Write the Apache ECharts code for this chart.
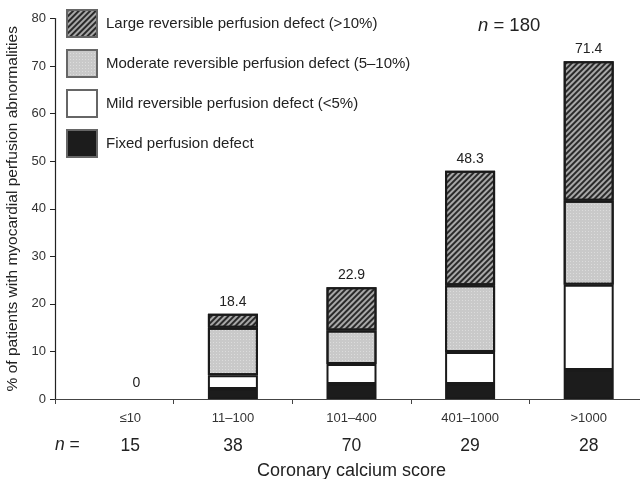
<!DOCTYPE html>
<html><head><meta charset="utf-8">
<script src="https://cdn.jsdelivr.net/npm/echarts@6/dist/echarts.min.js"></script>
<style>html,body{margin:0;padding:0;background:#fff}#c{width:640px;height:479px}</style>
</head><body><div id="c"></div>
<script>
var categories = ['≤10', '11–100', '101–400', '401–1000', '>1000'];
var nValues = ['15', '38', '70', '29', '28'];
var totalLabels = ['0', '18.4', '22.9', '48.3', '71.4'];
var fixedDefect = [0, 2.1, 3.15, 3.15, 6.1];
var mildDefect = [0, 2.9, 4.2, 6.75, 17.9];
var moderateDefect = [0, 10, 7.05, 14, 17.7];
var largeDefect = [0, 2.9, 9.1, 24.1, 29.3];
var yTicks = [0, 10, 20, 30, 40, 50, 60, 70, 80];

var FONT = 'Liberation Sans, Arial, sans-serif';
var chart = echarts.init(document.getElementById('c'), null, {renderer: 'canvas'});

function items(arr, isTop) {
  return arr.map(function (v) {
    if (v === 0) return isTop ? {value: 0, itemStyle: {borderWidth: 0, color: 'rgba(0,0,0,0)'}, label: {offset: [22, -4]}} : '-';
    return v;
  });
}
var border = {borderColor: '#1a1a1a', borderWidth: 2};
function shiftFirst(v, i) { return i === 0 ? '{s|' + v + '}' : v; }

chart.setOption({
  animation: false,
  legend: {
    orient: 'vertical', left: 61, top: 4, icon: 'rect', padding: 5,
    itemWidth: 30, itemHeight: 27, itemGap: 11,
    data: ['Large reversible perfusion defect (>10%)', 'Moderate reversible perfusion defect (5–10%)', 'Mild reversible perfusion defect (<5%)', 'Fixed perfusion defect'],
    itemStyle: {borderColor: '#666', borderWidth: 2},
    textStyle: {fontFamily: FONT, fontSize: 15, color: '#222', padding: [0, 0, 0, 4]},
    selectedMode: false
  },
  grid: {left: 55, top: 18.5, bottom: 80, width: 593, containLabel: false, outerBoundsMode: 'none'},
  xAxis: [{
    type: 'category', data: categories, position: 'bottom',
    axisLine: {lineStyle: {color: '#444', width: 1.2}},
    axisTick: {show: true, length: 5, lineStyle: {color: '#444'}},
    axisLabel: {fontFamily: FONT, fontSize: 13, color: '#333', margin: 13, formatter: shiftFirst,
      rich: {s: {fontFamily: FONT, fontSize: 13, color: '#333', padding: [0, 0, 0, 32]}}}
  }, {
    type: 'category', data: nValues, position: 'bottom', offset: 30,
    axisLine: {show: false}, axisTick: {show: false},
    axisLabel: {fontFamily: FONT, fontSize: 17.5, color: '#222', margin: 8, formatter: shiftFirst,
      rich: {s: {fontFamily: FONT, fontSize: 17.5, color: '#222', padding: [0, 0, 0, 32]}}},
    name: 'Coronary calcium score', nameLocation: 'middle', nameGap: 33,
    nameTextStyle: {fontFamily: FONT, fontSize: 18, color: '#222'}
  }],
  yAxis: {
    type: 'value', min: 0, max: 80, interval: 10,
    axisLine: {show: true, lineStyle: {color: '#222', width: 1.2}},
    axisTick: {show: true, length: 5, lineStyle: {color: '#222'}},
    splitLine: {show: false},
    axisLabel: {fontFamily: FONT, fontSize: 13, color: '#333', margin: 9},
    name: '% of patients with myocardial perfusion abnormalities',
    nameLocation: 'middle', nameGap: 33,
    nameTextStyle: {fontFamily: FONT, fontSize: 15.5, color: '#222'}
  },
  graphic: [
    {type: 'text', left: 55, top: 436, style: {text: '{i|n} =', rich: {i: {fontStyle: 'italic', fontFamily: FONT, fontSize: 17.5, fill: '#222'}}, font: '17.5px ' + FONT, fill: '#222'}},
    {type: 'text', left: 478, top: 16, style: {text: '{i|n} = 180', rich: {i: {fontStyle: 'italic', fontFamily: FONT, fontSize: 18.5, fill: '#222'}}, font: '18.5px ' + FONT, fill: '#222'}}
  ],
  series: [
    {name: 'Fixed perfusion defect', type: 'bar', stack: 's', barWidth: 50, data: items(fixedDefect),
     itemStyle: Object.assign({color: '#1c1c1c'}, border)},
    {name: 'Mild reversible perfusion defect (<5%)', type: 'bar', stack: 's', barWidth: 50, data: items(mildDefect),
     itemStyle: Object.assign({color: '#ffffff'}, border)},
    {name: 'Moderate reversible perfusion defect (5–10%)', type: 'bar', stack: 's', barWidth: 50, data: items(moderateDefect),
     itemStyle: Object.assign({color: '#c9c9c9', decal: {symbol: 'rect', symbolSize: 1, dashArrayX: [1, 2], dashArrayY: [1, 2], color: 'rgba(255,255,255,0.35)'}}, border)},
    {name: 'Large reversible perfusion defect (>10%)', type: 'bar', stack: 's', barWidth: 50, data: items(largeDefect, true),
     itemStyle: Object.assign({color: '#a8a8a8', decal: {symbol: 'rect', symbolSize: 1, dashArrayX: [[1, 0]], dashArrayY: [1.3, 1.3], rotation: -Math.PI / 4, color: '#2a2a2a'}}, border),
     label: {show: true, position: 'top', distance: 5, fontFamily: FONT, fontSize: 14, color: '#222',
       formatter: function (p) { return totalLabels[p.dataIndex]; }}}
  ]
});
</script></body></html>
